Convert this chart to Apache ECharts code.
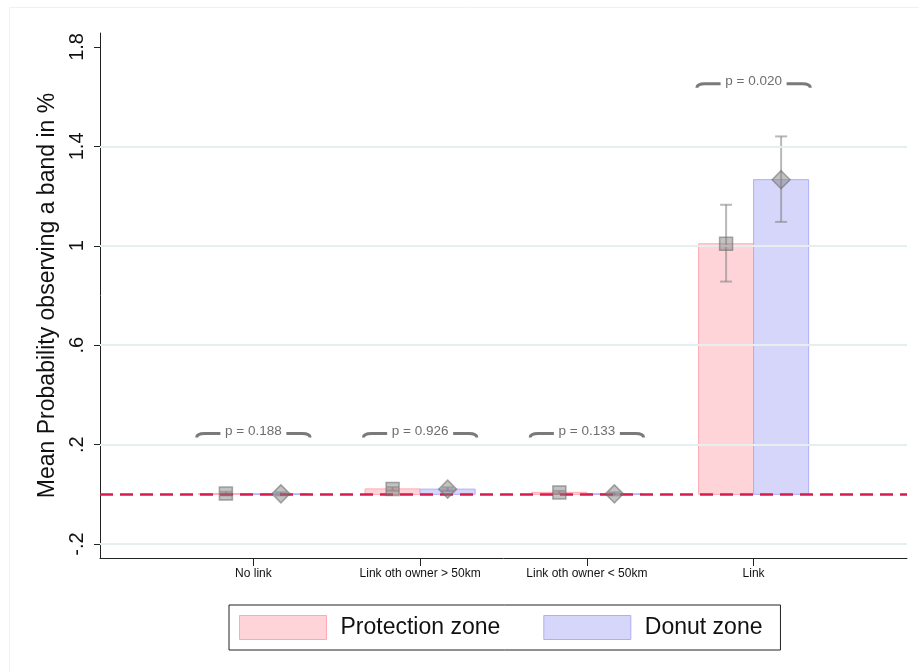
<!DOCTYPE html>
<html>
<head>
<meta charset="utf-8">
<script src="https://cdn.jsdelivr.net/npm/echarts@6/dist/echarts.min.js"></script>
<style>
  html, body { margin: 0; padding: 0; background: #ffffff; }
  #chart { width: 919px; height: 672px; }
</style>
</head>
<body>
<div id="chart"></div>
<script>
// Group positions on the x axis and their names
const groupPos = [1, 2, 3, 4];
const groupNames = ['No link', 'Link oth owner > 50km', 'Link oth owner < 50km', 'Link'];

// Mean probability (%) per zone
const protectionMean = [0.003, 0.022, 0.008, 1.008];
const donutMean      = [0.002, 0.021, 0.002, 1.266];

// 95% confidence intervals
const protectionLow  = [-0.004, 0.015, 0.002, 0.856];
const protectionHigh = [0.010, 0.029, 0.014, 1.165];
const donutLow       = [-0.004, 0.014, -0.004, 1.096];
const donutHigh      = [0.008, 0.028, 0.008, 1.440];

// Difference tests shown above each group
const pLabels = ['p = 0.188', 'p = 0.926', 'p = 0.133', 'p = 0.020'];
const pHeight = [0.245, 0.245, 0.245, 1.652];

// Y axis tick values and their printed labels
const yTicks = [-0.2, 0.2, 0.6, 1, 1.4, 1.8];
const yTickLabels = ['-.2', '.2', '.6', '1', '1.4', '1.8'];
const yGridValues = [-0.2, 0.2, 0.6, 1, 1.4];

const HALF = 0.33;      // bar width in x units
const OFFSET = 0.165;   // bar centre offset from group centre
const FONT = '"Liberation Sans", Arial, sans-serif';

const chart = echarts.init(document.getElementById('chart'), null, { renderer: 'canvas' });

function barData(means, side) {
  return groupPos.map((x, i) => [x + side * OFFSET, means[i]]);
}
function ciData(low, high, side) {
  return groupPos.map((x, i) => [x + side * OFFSET, low[i], high[i]]);
}

function makeBarRender(fill, stroke) {
  return function (params, api) {
    const x = api.value(0), v = api.value(1);
    const a = api.coord([x - HALF / 2, v]);
    const b = api.coord([x + HALF / 2, 0]);
    return {
      type: 'rect',
      shape: { x: a[0], y: Math.min(a[1], b[1]), width: b[0] - a[0], height: Math.abs(b[1] - a[1]) },
      style: { fill: fill, stroke: stroke, lineWidth: 1 }
    };
  };
}

function renderCI(params, api) {
  const x = api.value(0);
  const lo = api.coord([x, api.value(1)]);
  const hi = api.coord([x, api.value(2)]);
  const cap = 6;
  const st = { stroke: 'rgba(125,125,125,0.55)', lineWidth: 2, fill: null };
  return {
    type: 'group',
    children: [
      { type: 'line', shape: { x1: lo[0], y1: lo[1], x2: hi[0], y2: hi[1] }, style: st },
      { type: 'line', shape: { x1: lo[0] - cap, y1: lo[1], x2: lo[0] + cap, y2: lo[1] }, style: st },
      { type: 'line', shape: { x1: hi[0] - cap, y1: hi[1], x2: hi[0] + cap, y2: hi[1] }, style: st }
    ]
  };
}

function renderBracket(params, api) {
  const x = api.value(0), y = api.value(1);
  const c = api.coord([x, y]);
  const l = api.coord([x - 0.34, y]);
  const r = api.coord([x + 0.34, y]);
  const gap = 33, drop = 4, bend = 8;
  const st = { stroke: '#7a7a7a', lineWidth: 3, fill: null, lineCap: 'butt' };
  return {
    type: 'group',
    children: [
      { type: 'path', shape: { pathData:
          'M' + l[0] + ' ' + (c[1] + drop) +
          ' Q' + l[0] + ' ' + c[1] + ' ' + (l[0] + bend) + ' ' + c[1] +
          ' L' + (c[0] - gap) + ' ' + c[1] }, style: st },
      { type: 'path', shape: { pathData:
          'M' + (c[0] + gap) + ' ' + c[1] +
          ' L' + (r[0] - bend) + ' ' + c[1] +
          ' Q' + r[0] + ' ' + c[1] + ' ' + r[0] + ' ' + (c[1] + drop) }, style: st },
      { type: 'text', x: c[0], y: c[1] - 2,
        style: { text: pLabels[params.dataIndex], fill: '#6e6e6e', font: '13.5px ' + FONT,
                 align: 'center', verticalAlign: 'middle' } }
    ]
  };
}

const option = {
  backgroundColor: '#ffffff',
  animation: false,
  graphic: [{
    type: 'rect', silent: true, z: -10,
    shape: { x: 9.5, y: 7.5, width: 1000, height: 1000 },
    style: { fill: null, stroke: '#f0f0f0', lineWidth: 1 }
  }],
  grid: { left: 100, right: 12, top: 33, bottom: 114 },
  legend: {
    bottom: 22, left: 229,
    itemWidth: 87, itemHeight: 24, itemGap: 43,
    padding: [10, 18, 10, 10],
    borderColor: '#222', borderWidth: 1,
    selectedMode: false,
    textStyle: { fontSize: 23, color: '#111', fontFamily: FONT, padding: [0, 0, 0, 9] },
    data: [
      { name: 'Protection zone', icon: 'rect', itemStyle: { color: '#ffd4d8', borderColor: '#ffaab2', borderWidth: 1 } },
      { name: 'Donut zone', icon: 'rect', itemStyle: { color: '#d6d6fb', borderColor: '#aeaef7', borderWidth: 1 } }
    ]
  },
  xAxis: {
    type: 'value', min: 0.08, max: 4.92,
    splitLine: { show: false },
    axisLine: { show: true, onZero: false, lineStyle: { color: '#222', width: 1 } },
    axisTick: { show: true, length: 8, customValues: groupPos, lineStyle: { color: '#222' } },
    axisLabel: {
      customValues: groupPos, margin: 10, fontSize: 12, color: '#111', fontFamily: FONT,
      formatter: v => groupNames[groupPos.indexOf(Math.round(v))] || ''
    }
  },
  yAxis: {
    type: 'value', min: -0.256, max: 1.856,
    name: 'Mean Probability observing a band in %',
    nameLocation: 'middle', nameGap: 38,
    nameTextStyle: { fontSize: 23, color: '#111', fontFamily: FONT },
    splitLine: { show: false },
    axisLine: { show: true, onZero: false, lineStyle: { color: '#222', width: 1 } },
    axisTick: { show: true, length: 6, customValues: yTicks, lineStyle: { color: '#222' } },
    axisLabel: {
      customValues: yTicks, rotate: 90, margin: 13, fontSize: 20, color: '#111', fontFamily: FONT,
      formatter: v => {
        const i = yTicks.findIndex(t => Math.abs(t - v) < 1e-6);
        return i >= 0 ? yTickLabels[i] : '';
      }
    }
  },
  series: [
    {
      // light horizontal grid lines
      type: 'line', data: [], silent: true, z: 0,
      markLine: {
        silent: true, symbol: 'none', label: { show: false },
        lineStyle: { color: '#e6eff0', type: 'solid', width: 2 },
        data: yGridValues.map(v => ({ yAxis: v }))
      }
    },
    {
      name: 'Protection zone', type: 'custom', z: 2,
      itemStyle: { color: '#ffd4d8' },
      renderItem: makeBarRender('#ffd4d8', '#ffaab2'),
      encode: { x: 0, y: 1 },
      data: barData(protectionMean, -1)
    },
    {
      name: 'Donut zone', type: 'custom', z: 2,
      itemStyle: { color: '#d6d6fb' },
      renderItem: makeBarRender('#d6d6fb', '#aeaef7'),
      encode: { x: 0, y: 1 },
      data: barData(donutMean, 1)
    },
    {
      // reference line at zero
      type: 'line', data: [], silent: true, z: 3,
      markLine: {
        silent: true, symbol: 'none', label: { show: false },
        lineStyle: { color: '#d81b4f', type: [13, 7], width: 2.5 },
        data: [{ yAxis: 0 }]
      }
    },
    {
      type: 'custom', z: 4, silent: true,
      renderItem: renderCI, encode: { x: 0, y: [1, 2] },
      data: ciData(protectionLow, protectionHigh, -1)
    },
    {
      type: 'custom', z: 4, silent: true,
      renderItem: renderCI, encode: { x: 0, y: [1, 2] },
      data: ciData(donutLow, donutHigh, 1)
    },
    {
      type: 'scatter', z: 5, silent: true,
      symbol: 'rect', symbolSize: 13,
      itemStyle: { color: 'rgba(128,128,128,0.6)', borderColor: 'rgba(105,105,105,0.7)', borderWidth: 1.5 },
      data: barData(protectionMean, -1)
    },
    {
      type: 'scatter', z: 5, silent: true,
      symbol: 'diamond', symbolSize: [18, 18],
      itemStyle: { color: 'rgba(128,128,128,0.6)', borderColor: 'rgba(105,105,105,0.7)', borderWidth: 1.5 },
      data: barData(donutMean, 1)
    },
    {
      type: 'custom', z: 6, silent: true,
      renderItem: renderBracket, encode: { x: 0, y: 1 },
      data: groupPos.map((x, i) => [x, pHeight[i]])
    }
  ]
};

chart.setOption(option);
</script>
</body>
</html>
